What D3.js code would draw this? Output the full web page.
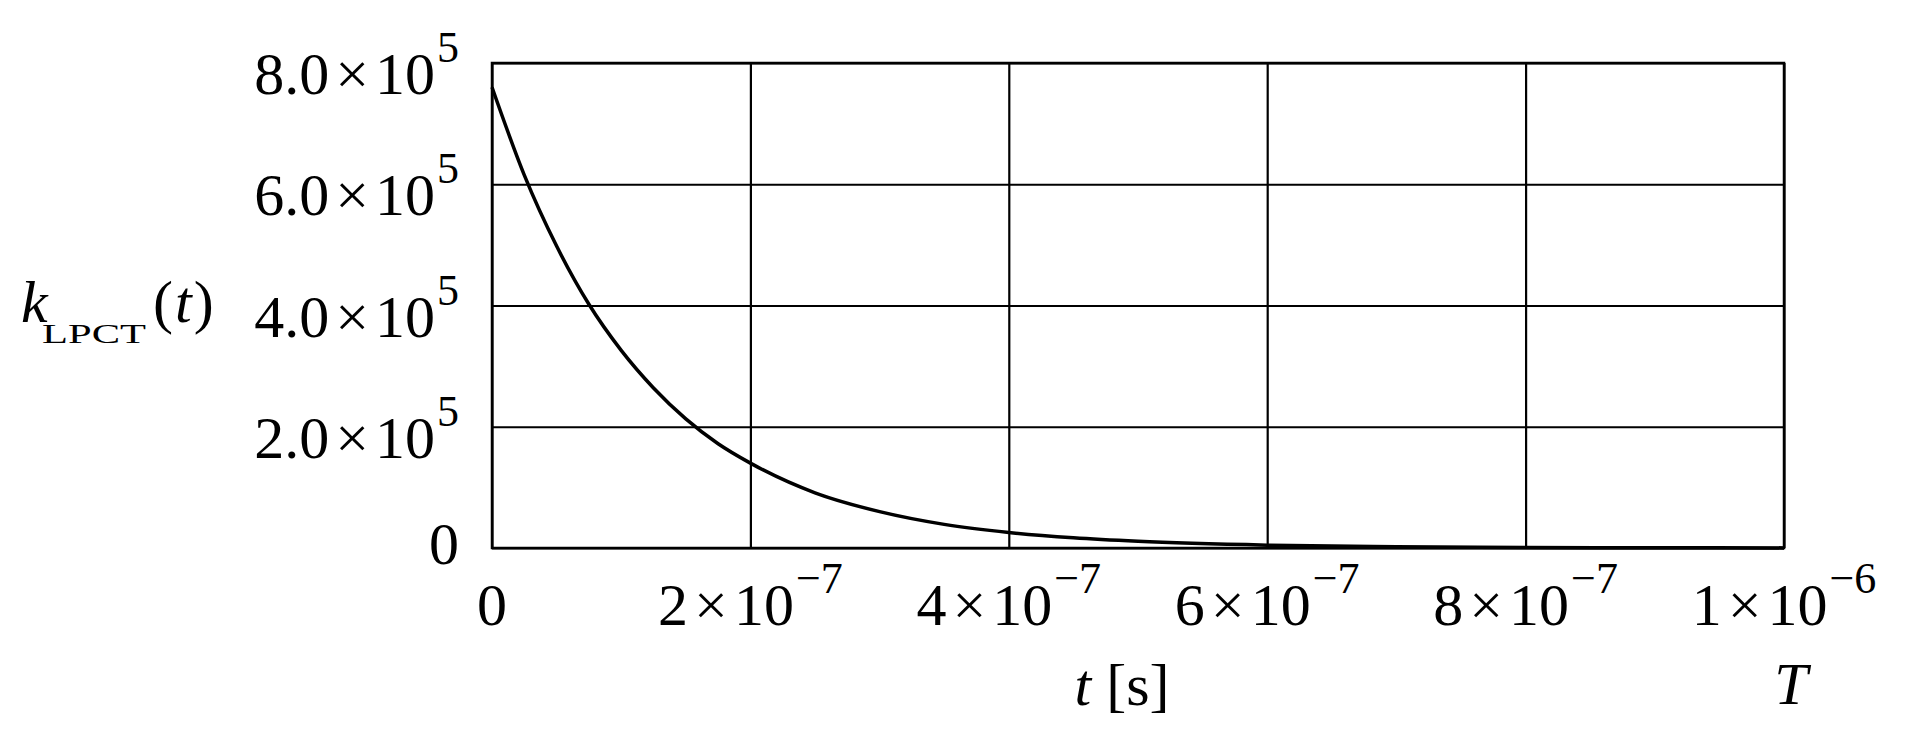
<!DOCTYPE html>
<html>
<head>
<meta charset="utf-8">
<script src="https://cdn.jsdelivr.net/npm/d3@7"></script>
<style>
  body { margin: 0; background: #fff; }
  svg { display: block; }
  text { font-family: "Liberation Serif", "Times New Roman", serif; fill: #000; }
</style>
</head>
<body>
<script>
// values (t in seconds, k in 1/s)
var tValues = [0, 0.25e-7, 0.5e-7, 0.75e-7, 1.0e-7, 1.25e-7, 1.5e-7, 1.75e-7, 2.0e-7,
               2.5e-7, 3.0e-7, 3.5e-7, 4.0e-7, 4.5e-7, 5.0e-7, 6.0e-7, 7.0e-7, 8.0e-7, 9.0e-7, 1.0e-6];
var kValues = [760000, 615000, 498000, 402000, 326000, 264000, 213000, 172000, 140000,
               91000, 60000, 39000, 25600, 16800, 11000, 4700, 2000, 900, 400, 200];

var yTicks = [0, 2e5, 4e5, 6e5, 8e5];
var yMant = ["0", "2.0", "4.0", "6.0", "8.0"];
var yExp = ["", "5", "5", "5", "5"];

var xTicks = [0, 2e-7, 4e-7, 6e-7, 8e-7, 1e-6];
var xMant = ["0", "2", "4", "6", "8", "1"];
var xExp = ["", "\u22127", "\u22127", "\u22127", "\u22127", "\u22126"];

var W = 1907, H = 740;
var plotLeft = 492, plotRight = 1784, plotTop = 63, plotBottom = 548;

var svg = d3.select("body").append("svg").attr("width", W).attr("height", H);

var x = d3.scaleLinear().domain([0, 1e-6]).range([plotLeft, plotRight]);
var y = d3.scaleLinear().domain([0, 8e5]).range([plotBottom, plotTop]);

// grid lines
svg.append("g").attr("transform", "translate(0," + plotBottom + ")")
  .call(d3.axisBottom(x).tickValues(xTicks).tickSize(-(plotBottom - plotTop)).tickFormat(function(){ return ""; }))
  .call(function(g){ g.select(".domain").remove(); })
  .selectAll("line").attr("stroke", "#000").attr("stroke-width", 2.2);

svg.append("g").attr("transform", "translate(" + plotLeft + ",0)")
  .call(d3.axisLeft(y).tickValues(yTicks).tickSize(-(plotRight - plotLeft)).tickFormat(function(){ return ""; }))
  .call(function(g){ g.select(".domain").remove(); })
  .selectAll("line").attr("stroke", "#000").attr("stroke-width", 2.2);

// frame
svg.append("rect").attr("x", plotLeft).attr("y", plotTop)
  .attr("width", plotRight - plotLeft).attr("height", plotBottom - plotTop)
  .attr("fill", "none").attr("stroke", "#000").attr("stroke-width", 2.5);

// curve
var line = d3.line()
  .x(function(d, i){ return x(tValues[i]); })
  .y(function(d){ return y(d); })
  .curve(d3.curveMonotoneX);

svg.append("path").datum(kValues)
  .attr("d", line)
  .attr("fill", "none").attr("stroke", "#000").attr("stroke-width", 3.5);

// label builder: mantissa x 10^exp
function sciLabel(sel, mant, exp) {
  sel.append("tspan").text(mant);
  if (exp) {
    sel.append("tspan").attr("dx", 6).text("\u00d7");
    sel.append("tspan").attr("dx", 6).text("10");
    sel.append("tspan").attr("dx", 2).attr("dy", -32).attr("font-size", 44).text(exp);
  }
}

// y tick labels
svg.append("g").selectAll("text").data(yTicks).enter().append("text")
  .attr("x", 459)
  .attr("y", function(d, i){ return y(d) + (yExp[i] ? 31 : 16); })
  .attr("text-anchor", "end")
  .attr("font-size", 60)
  .each(function(d, i){ sciLabel(d3.select(this), yMant[i], yExp[i]); });

// x tick labels
svg.append("g").selectAll("text").data(xTicks).enter().append("text")
  .attr("x", function(d){ return x(d); })
  .attr("y", 625)
  .attr("text-anchor", "middle")
  .attr("font-size", 60)
  .each(function(d, i){ sciLabel(d3.select(this), xMant[i], xExp[i]); });

// y axis title k_LPCT(t)
svg.append("text").attr("x", 21).attr("y", 322).attr("font-size", 60)
  .attr("font-style", "italic").text("k");
svg.append("text").attr("x", 42).attr("y", 343).attr("font-size", 28)
  .attr("textLength", 104).attr("lengthAdjust", "spacingAndGlyphs").text("LPCT");
var yt = svg.append("text").attr("x", 153).attr("y", 322).attr("font-size", 60);
yt.append("tspan").text("(");
yt.append("tspan").attr("dx", 2).attr("font-style", "italic").text("t");
yt.append("tspan").attr("dx", 2).text(")");

// x axis titles
var xt = svg.append("text").attr("x", 1122).attr("y", 705).attr("font-size", 60).attr("text-anchor", "middle");
xt.append("tspan").attr("font-style", "italic").text("t");
xt.append("tspan").text(" [s]");

svg.append("text").attr("x", 1791).attr("y", 704).attr("font-size", 60)
  .attr("text-anchor", "middle").attr("font-style", "italic").text("T");
</script>
</body>
</html>
